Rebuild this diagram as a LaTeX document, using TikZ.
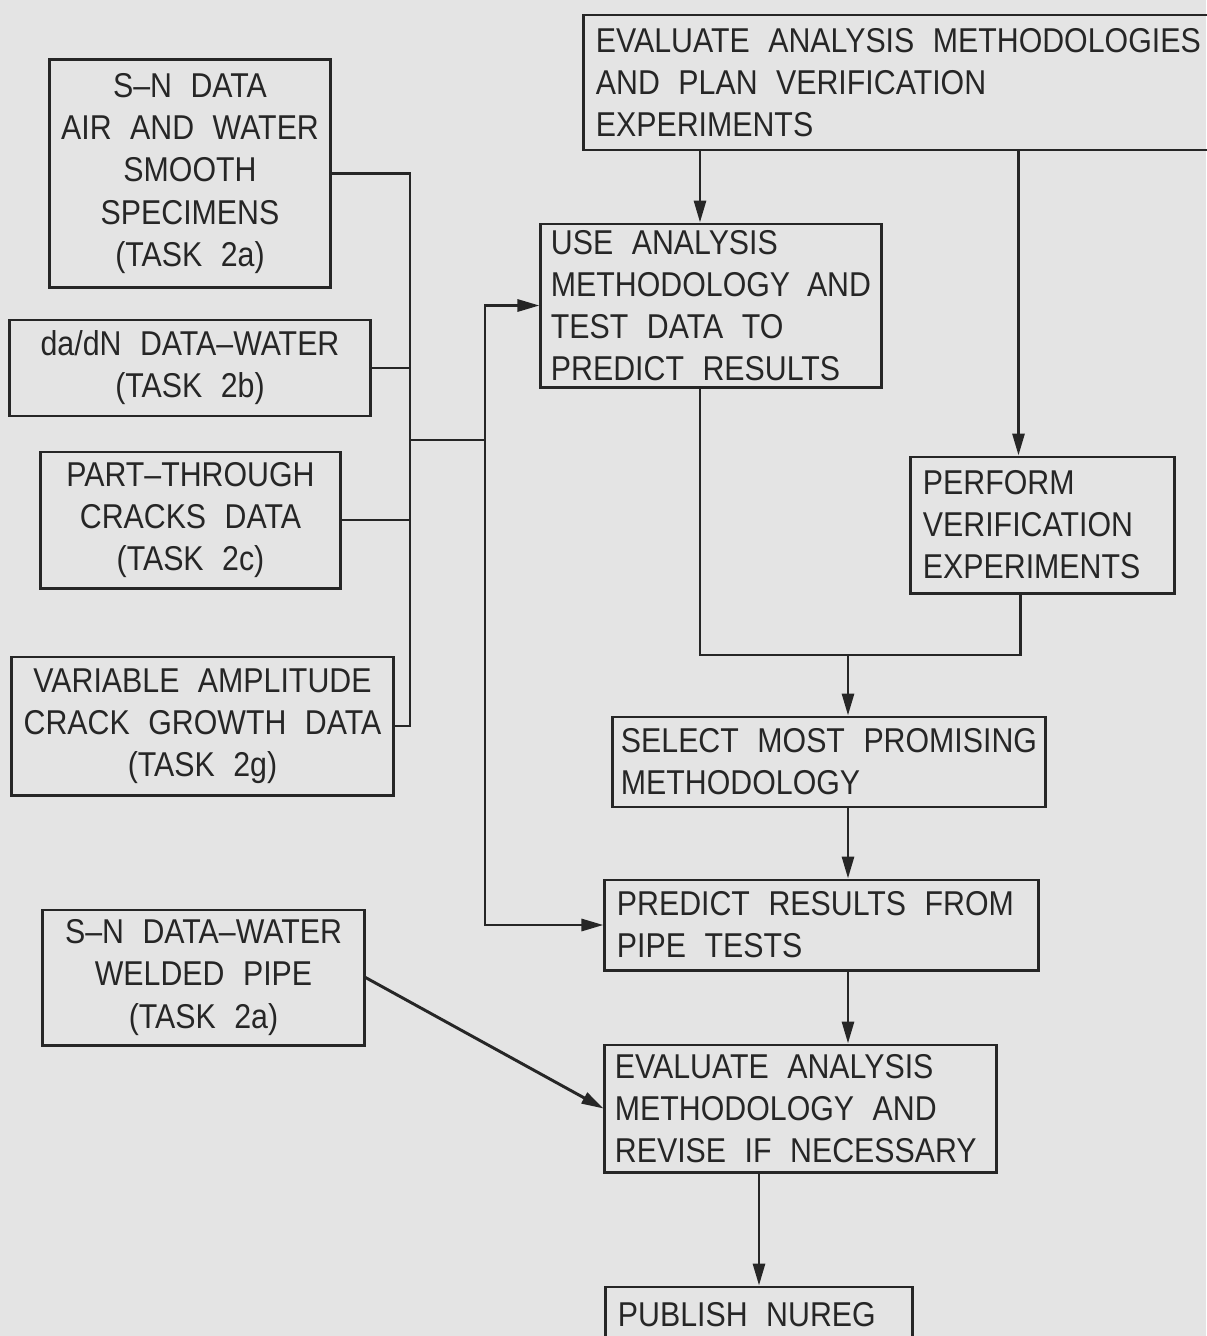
\documentclass[tikz,border=0pt]{standalone}
\usepackage{fontspec}
\setmainfont[FakeStretch=0.88,WordSpace=2.2]{Liberation Sans}
\usetikzlibrary{arrows.meta,positioning}
\definecolor{DiagInk}{HTML}{262626}
\definecolor{DiagPaper}{HTML}{E4E4E4}
\tikzset{
  link/.style={line width=2.1pt, draw=DiagInk},
  flow/.style={link, -{Triangle[length=0.55cm,width=0.3cm]}},
  box/.style={draw=DiagInk, line width=2.1pt, align=center, inner sep=0pt, text=DiagInk},
  lbox/.style={box, align=left, inner xsep=0.3cm,
               execute at begin node={\spaceskip=0pt\xspaceskip=0pt\relax}},
}
\begin{document}
\begin{tikzpicture}[x=0.025cm,y=-0.025cm,font=\fontsize{24.5}{29.9}\selectfont]
    \fill[DiagPaper] (0,0) rectangle (1206,1336);
    \useasboundingbox (0,0) rectangle (1206,1336);
    \node[lbox,text width=15.55cm,minimum height=3.375cm] (plan) at (907,82.5) {EVALUATE ANALYSIS METHODOLOGIES\\AND PLAN VERIFICATION\\EXPERIMENTS};
    \node[box,minimum width=7cm,minimum height=5.675cm] (smooth) at (190,173.5) {S--N DATA\\AIR AND WATER\\SMOOTH\\SPECIMENS\\(TASK 2a)};
    \node[box,minimum width=9cm,minimum height=2.4cm] (dadn) at (190,368) {da/dN DATA--WATER\\(TASK 2b)};
    \node[box,minimum width=7.475cm,minimum height=3.4cm] (part) at (190.5,520) {PART--THROUGH\\CRACKS DATA\\(TASK 2c)};
    \node[box,minimum width=9.525cm,minimum height=3.45cm] (varamp) at (202.5,726) {VARIABLE AMPLITUDE\\CRACK GROWTH DATA\\(TASK 2g)};
    \node[box,minimum width=8.025cm,minimum height=3.375cm] (welded) at (203.5,977.5) {S--N DATA--WATER\\WELDED PIPE\\(TASK 2a)};
    \node[lbox,inner xsep=0.25cm,text width=8cm,minimum height=4.075cm] (use) at (711,305.5) {USE ANALYSIS\\METHODOLOGY AND\\TEST DATA TO\\PREDICT RESULTS};
    \node[lbox,text width=5.975cm,minimum height=3.4cm] (perform) at (1042.5,525) {PERFORM\\VERIFICATION\\EXPERIMENTS};
    \node[lbox,inner xsep=0.2cm,text width=10.4cm,minimum height=2.25cm] (select) at (829,762) {SELECT MOST PROMISING\\METHODOLOGY};
    \node[lbox,text width=10.225cm,minimum height=2.25cm] (predict) at (821.5,925) {PREDICT RESULTS FROM\\PIPE TESTS};
    \node[lbox,inner xsep=0.25cm,text width=9.275cm,minimum height=3.175cm] (evalrev) at (800.5,1108.5) {EVALUATE ANALYSIS\\METHODOLOGY AND\\REVISE IF NECESSARY};
    \node[lbox,text width=7.05cm,minimum height=1.375cm] (publish) at (759,1314.5) {PUBLISH NUREG};
    \coordinate (bus) at (410,440);
    \coordinate (fork) at (485,440);
    \coordinate (merge) at (848,655);
    \draw[link] (smooth.east) -| (bus) |- (varamp.east);
    \draw[link] (dadn.east) -- (dadn.east -| bus);
    \draw[link] (part.east) -- (part.east -| bus);
    \draw[link] (bus) -- (fork);
    \draw[flow] (fork) |- (use.west);
    \draw[flow] (fork) |- (predict.west);
    \draw[flow] ([xshift=-0.275cm]use.north |- plan.south) -- ([xshift=-0.275cm]use.north);
    \draw[flow] ([xshift=-0.6cm]perform.north |- plan.south) -- ([xshift=-0.6cm]perform.north);
    \draw[link] ([xshift=-0.275cm]use.south) |- (merge) -| ([xshift=-0.56cm]perform.south);
    \draw[flow] (merge) -- (merge |- select.north);
    \draw[flow] (merge |- select.south) -- (merge |- predict.north);
    \draw[flow] (merge |- predict.south) -- (merge |- evalrev.north);
    \draw[flow] (welded.east) -- (evalrev.west);
    \draw[flow] (publish.north |- evalrev.south) -- (publish.north);
  \end{tikzpicture}
\end{document}
